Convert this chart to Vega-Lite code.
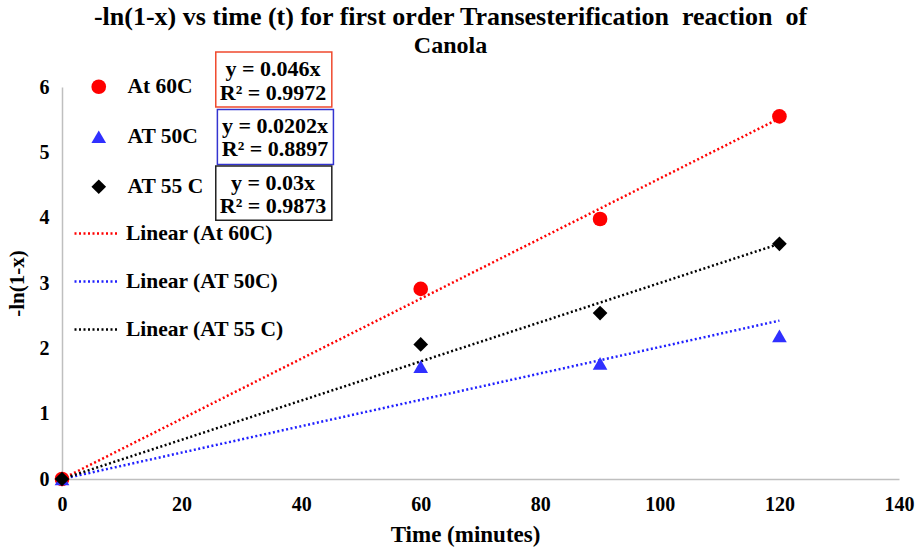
{
  "$schema": "https://vega.github.io/schema/vega-lite/v6.json",
  "width": 837,
  "height": 392,
  "autosize": "none",
  "padding": {"left": 62, "top": 87, "right": 22, "bottom": 73},
  "background": "white",
  "title": {
    "text": "-ln(1-x) vs time (t) for first order Transesterification \u00a0reaction \u00a0of",
    "subtitle": "Canola",
    "font": "Liberation Serif",
    "fontSize": 26,
    "fontWeight": "bold",
    "color": "black",
    "subtitleFont": "Liberation Serif",
    "subtitleFontSize": 24,
    "subtitleFontWeight": "bold",
    "subtitleColor": "black",
    "subtitlePadding": 4,
    "anchor": "middle",
    "frame": "group",
    "dx": -30,
    "offset": -7
  },
  "config": {
    "view": {"stroke": null},
    "axis": {
      "labelFont": "Liberation Serif",
      "labelFontWeight": "bold",
      "labelFontSize": 20,
      "labelColor": "black",
      "labelFlush": false,
      "titleFont": "Liberation Serif",
      "titleFontWeight": "bold",
      "titleFontSize": 21,
      "titleColor": "black",
      "domainColor": "#BFBFBF",
      "domainWidth": 1.5,
      "ticks": false,
      "grid": false
    },
    "legend": {
      "labelFont": "Liberation Serif",
      "labelFontWeight": "bold",
      "labelFontSize": 21.5,
      "labelColor": "black",
      "padding": 0,
      "title": null
    }
  },
  "layer": [
    {
      "data": {"values": [
        {"trend": "Linear (At 60C)", "t": 0, "v": 0},
        {"trend": "Linear (At 60C)", "t": 120, "v": 5.52},
        {"trend": "Linear (AT 50C)", "t": 0, "v": 0},
        {"trend": "Linear (AT 50C)", "t": 120, "v": 2.424},
        {"trend": "Linear (AT 55 C)", "t": 0, "v": 0},
        {"trend": "Linear (AT 55 C)", "t": 120, "v": 3.6}
      ]},
      "mark": {"type": "line", "strokeDash": [2, 2.5], "strokeWidth": 2.5},
      "encoding": {
        "x": {"field": "t", "type": "quantitative", "scale": {"domain": [0, 140], "nice": false},
              "axis": {"values": [0, 20, 40, 60, 80, 100, 120, 140], "title": "Time (minutes)", "labelPadding": 15, "titlePadding": 9, "titleFontSize": 23, "titleX": 403}},
        "y": {"field": "v", "type": "quantitative", "scale": {"domain": [0, 6], "nice": false},
              "axis": {"values": [0, 1, 2, 3, 4, 5, 6], "format": "d", "title": "-ln(1-x)", "labelPadding": 13, "titlePadding": 12}},
        "stroke": {"field": "trend", "type": "nominal",
                   "scale": {"domain": ["Linear (At 60C)", "Linear (AT 50C)", "Linear (AT 55 C)"], "range": ["#FF0000", "#2020FF", "#000000"]},
                   "legend": {"orient": "none", "legendX": 11, "legendY": 122.5, "symbolType": "stroke", "symbolSize": 2025,
                              "symbolDash": [2, 2.5], "symbolStrokeWidth": 2.5, "labelOffset": 5, "rowPadding": 13}},
        "detail": {"field": "trend"}
      }
    },
    {
      "data": {"values": [
        {"series": "At 60C", "t": 0, "v": 0},
        {"series": "At 60C", "t": 60, "v": 2.91},
        {"series": "At 60C", "t": 90, "v": 3.98},
        {"series": "At 60C", "t": 120, "v": 5.55},
        {"series": "AT 50C", "t": 0, "v": 0},
        {"series": "AT 50C", "t": 60, "v": 1.72},
        {"series": "AT 50C", "t": 90, "v": 1.77},
        {"series": "AT 50C", "t": 120, "v": 2.19},
        {"series": "AT 55 C", "t": 0, "v": 0},
        {"series": "AT 55 C", "t": 60, "v": 2.06},
        {"series": "AT 55 C", "t": 90, "v": 2.54},
        {"series": "AT 55 C", "t": 120, "v": 3.6}
      ]},
      "mark": {"type": "point", "filled": true, "opacity": 1, "size": 215},
      "encoding": {
        "x": {"field": "t", "type": "quantitative"},
        "y": {"field": "v", "type": "quantitative"},
        "fill": {"field": "series", "type": "nominal",
                 "scale": {"domain": ["At 60C", "AT 50C", "AT 55 C"], "range": ["#FF0000", "#3030FF", "#000000"]},
                 "legend": {"orient": "none", "legendX": 26, "legendY": -11, "symbolSize": 215, "labelOffset": 18, "rowPadding": 27, "symbolOpacity": 1}},
        "shape": {"field": "series", "type": "nominal",
                  "scale": {"domain": ["At 60C", "AT 50C", "AT 55 C"], "range": ["circle", "triangle-up", "diamond"]}}
      }
    },
    {
      "data": {"values": [{}]},
      "mark": {"type": "rect", "fill": null, "stroke": "#F04A2E", "strokeWidth": 1.5},
      "encoding": {"x": {"datum": 25.72}, "x2": {"datum": 45.13}, "y": {"datum": 6.535}, "y2": {"datum": 5.694}}
    },
    {
      "data": {"values": [{}]},
      "mark": {"type": "rect", "fill": null, "stroke": "#3434D0", "strokeWidth": 1.5},
      "encoding": {"x": {"datum": 25.99}, "x2": {"datum": 45.4}, "y": {"datum": 5.654}, "y2": {"datum": 4.813}}
    },
    {
      "data": {"values": [{}]},
      "mark": {"type": "rect", "fill": null, "stroke": "#222222", "strokeWidth": 1.5},
      "encoding": {"x": {"datum": 25.72}, "x2": {"datum": 45.13}, "y": {"datum": 4.792}, "y2": {"datum": 3.961}}
    },
    {
      "data": {"values": [{"label": "y = 0.046x\nR² = 0.9972"}]},
      "mark": {"type": "text", "lineBreak": "\n", "font": "Liberation Serif", "fontWeight": "bold", "fontSize": 22, "lineHeight": 23.7, "baseline": "middle", "align": "center", "color": "black"},
      "encoding": {"x": {"datum": 35.3}, "y": {"datum": 6.271}, "text": {"field": "label"}}
    },
    {
      "data": {"values": [{"label": "y = 0.0202x\nR² = 0.8897"}]},
      "mark": {"type": "text", "lineBreak": "\n", "font": "Liberation Serif", "fontWeight": "bold", "fontSize": 22, "lineHeight": 23.2, "baseline": "middle", "align": "center", "color": "black"},
      "encoding": {"x": {"datum": 35.64}, "y": {"datum": 5.399}, "text": {"field": "label"}}
    },
    {
      "data": {"values": [{"label": "y = 0.03x\nR² = 0.9873"}]},
      "mark": {"type": "text", "lineBreak": "\n", "font": "Liberation Serif", "fontWeight": "bold", "fontSize": 22, "lineHeight": 22.7, "baseline": "middle", "align": "center", "color": "black"},
      "encoding": {"x": {"datum": 35.3}, "y": {"datum": 4.532}, "text": {"field": "label"}}
    }
  ]
}
